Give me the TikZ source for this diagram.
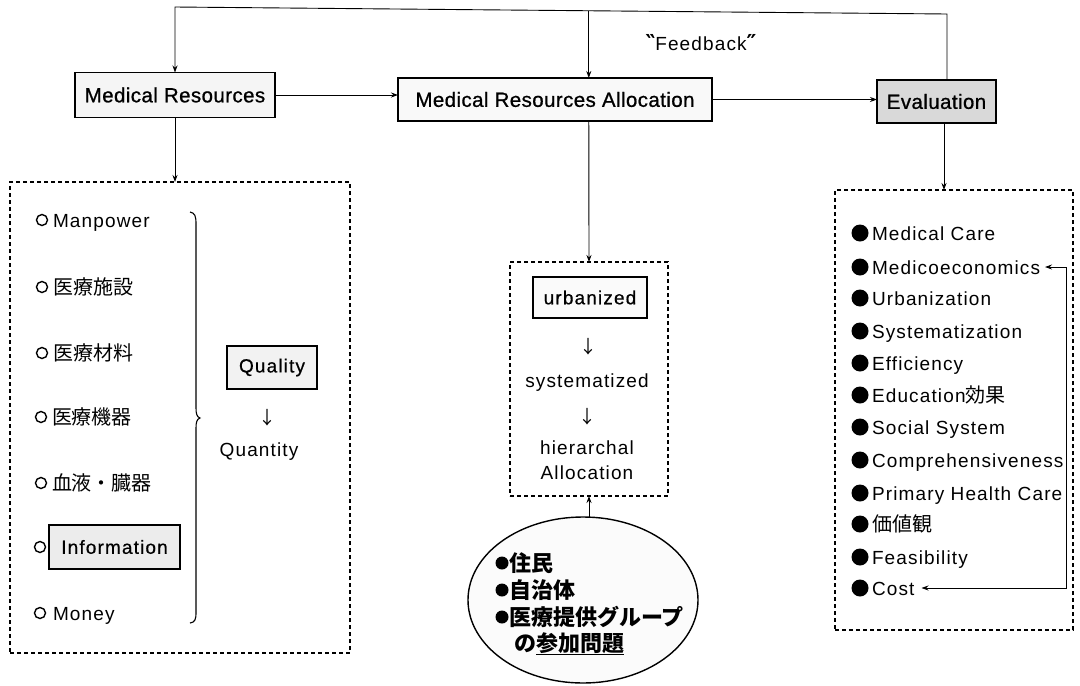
\documentclass[tikz,border=0pt]{standalone}
\usepackage{fontspec}
\setmainfont{Liberation Sans}[LetterSpace=6]
\newfontfamily\topfont{Liberation Sans}[LetterSpace=2,FakeBold=0.8]
\newfontfamily\tagfont{Liberation Sans}[LetterSpace=6,FakeBold=0.6]
\newfontfamily\jp{Noto Sans CJK JP}
\newfontfamily\symfont{DejaVu Sans}
\usetikzlibrary{shapes.geometric,arrows.meta,calc}

\begin{document}
\begin{tikzpicture}[x=1pt,y=-1pt,
  every node/.style={inner sep=0pt, outer sep=0pt},
  arr/.style={-{Stealth[length=7pt,width=5pt]}, line width=0.9pt},
  arrboth/.style={{Stealth[length=7pt,width=5pt]}-{Stealth[length=7pt,width=5pt]}, line width=0.9pt},
  mainbox/.style={draw, line width=1.7pt, fill=gray!8, font=\topfont\fontsize{20.5}{24}\selectfont},
  tagbox/.style={draw, line width=1.5pt, font=\tagfont\fontsize{19}{22}\selectfont},
  dashbox/.style={draw, line width=1.1pt, dash pattern=on 4pt off 3pt, anchor=north west},
  item/.style={anchor=base west, font=\fontsize{19}{22}\selectfont},
  jpitem/.style={anchor=base west, font=\jp\fontsize{20}{24}\selectfont},
  elitem/.style={anchor=base west, font=\jp\bfseries\fontsize{22}{26}\selectfont},
  plain/.style={font=\fontsize{19}{22}\selectfont},
  downarrow/.style={font=\jp\fontsize{18}{20}\selectfont},
  obul/.style={circle, draw, line width=1.4pt, minimum size=11pt},
  fbul/.style={circle, fill=black, minimum size=17pt},
  ebul/.style={circle, fill=black, minimum size=13pt},
]
\fill[white] (0,0) rectangle (1080,686);
\useasboundingbox (0,0) rectangle (1080,686);

% ---- top row of boxes ----
\node[mainbox, minimum width=200pt, minimum height=45pt] (mr) at (175,95) {Medical Resources};
\node[mainbox, minimum width=314pt, minimum height=43pt, fill=gray!5] (mra) at (555,99.5) {Medical Resources Allocation};
\node[mainbox, minimum width=119pt, minimum height=43pt, fill=gray!30] (ev) at (936.5,101.5) {Evaluation};

% ---- feedback loop ----
\node[plain] (fbt) at (701,43) {{\symfont\bfseries\fontsize{22}{22}\selectfont ‶}Feedback{\symfont\bfseries\fontsize{22}{22}\selectfont ″}};
\coordinate (fbR) at (947,14);
\coordinate (fbL) at (175,7);
\coordinate (fbM) at ($(fbL)!0.536!(fbR)$);
\draw[arr] (fbR |- ev.north) -- (fbR) -- (fbL) -- (mr.north);
\draw[arr] (fbM) -- (fbM |- mra.north);

\draw[arr] (mr.east) -- (mr.east -| mra.west);
\draw[arr] (mra.east) -- (mra.east -| ev.west);

% ---- resources panel ----
\node[dashbox, minimum width=340pt, minimum height=471pt] (lbox) at (10,182) {};
\draw[arr] (mr.south) -- (mr.south |- lbox.north);

\node[obul] (b1) at (42,220) {};
\node[item] (t1) at (53,227) {Manpower};
\node[obul] (b2) at (42,287) {};
\node[jpitem] (t2) at (53,294) {医療施設};
\node[obul] (b3) at (42,353) {};
\node[jpitem] (t3) at (53,360) {医療材料};
\node[obul] (b4) at (41,417) {};
\node[jpitem] (t4) at (52,424) {医療機器};
\node[obul] (b5) at (41,483) {};
\node[jpitem] (t5) at (52,490) {血液・臓器};
\node[obul] (b6) at (40,547) {};
\node[tagbox, fill=gray!15, minimum width=131pt, minimum height=44pt] (t6) at (114.5,547) {Information};
\node[obul] (b7) at (40,613) {};
\node[item] (t7) at (53,620) {Money};

% curly brace grouping the resources
\draw[line width=1.1pt] (190,212) .. controls (195,213) and (196,216) .. (196,224)
  -- (196,408) .. controls (196,414) and (197,417) .. (200,418)
  .. controls (197,419) and (196,422) .. (196,428)
  -- (196,612) .. controls (196,620) and (195,622) .. (190,623);

\node[tagbox, fill=gray!10, minimum width=90pt, minimum height=43pt] (qual) at (272,367.5) {Quality};
\node[downarrow] (qa) at (267,418) {↓};
\node[plain] (quan) at (259,452) {Quantity};

% ---- allocation panel ----
\node[dashbox, minimum width=158pt, minimum height=234pt] (mbox) at (510,262) {};
\draw[arr] (fbM |- mra.south) -- (mbox.north);
\node[tagbox, fill=gray!4, minimum width=114pt, minimum height=41pt] (urb) at (590,297.5) {urbanized};
\node[downarrow] (ma1) at (588,347) {↓};
\node[plain] (sys) at (587,383) {systematized};
\node[downarrow] (ma2) at (587,417) {↓};
\node[plain] (hie) at (587,448) {hierarchal};
\node[plain] (alc) at (587,473) {Allocation};

% ---- participants ellipse ----
\node[ellipse, draw, line width=1.4pt, fill=gray!3, minimum width=230pt, minimum height=166pt] (ell) at (583,600) {};
\draw[arr] (ell.north -| mbox.south) -- (mbox.south);
\node[ebul] (e1) at (502,563) {};
\node[elitem] (et1) at (509,571) {住民};
\node[ebul] (e2) at (502,590) {};
\node[elitem] (et2) at (509,598) {自治体};
\node[ebul] (e3) at (502,617) {};
\node[elitem] (et3) at (509,625) {医療提供グループ};
\node[elitem] (et4) at (514,651) {の\underline{参加問題}};

% ---- evaluation panel ----
\node[dashbox, minimum width=238pt, minimum height=440pt] (rbox) at (835,190) {};
\draw[arr] ([xshift=7.5pt]ev.south) -- ([xshift=7.5pt]ev.south |- rbox.north);

\node[fbul] (c1) at (860,233) {};  \node[item] (r1) at (872,240) {Medical Care};
\node[fbul] (c2) at (860,267) {};  \node[item] (r2) at (872,274) {Medicoeconomics};
\node[fbul] (c3) at (860,298) {};  \node[item] (r3) at (872,305) {Urbanization};
\node[fbul] (c4) at (860,331) {};  \node[item] (r4) at (872,338) {Systematization};
\node[fbul] (c5) at (860,363) {};  \node[item] (r5) at (872,370) {Efficiency};
\node[fbul] (c6) at (860,395) {};  \node[item] (r6) at (872,402) {Education{\jp\fontsize{20}{24}\selectfont 効果}};
\node[fbul] (c7) at (860,427) {};  \node[item] (r7) at (872,434) {Social System};
\node[fbul] (c8) at (860,460) {};  \node[item] (r8) at (872,467) {Comprehensiveness};
\node[fbul] (c9) at (860,493) {};  \node[item] (r9) at (872,500) {Primary Health Care};
\node[fbul] (c10) at (860,524) {}; \node[jpitem] (r10) at (872,531) {価値観};
\node[fbul] (c11) at (860,557) {}; \node[item] (r11) at (872,564) {Feasibility};
\node[fbul] (c12) at (860,588) {}; \node[item] (r12) at (872,595) {Cost};

\coordinate (cr1) at (1066,267);
\coordinate (cr2) at (1066,588);
\draw[arrboth] ($(r2.east |- cr1)+(5,0)$) -- (cr1) -- (cr2) -- ($(r12.east |- cr2)+(7,0)$);
\end{tikzpicture}
\end{document}
